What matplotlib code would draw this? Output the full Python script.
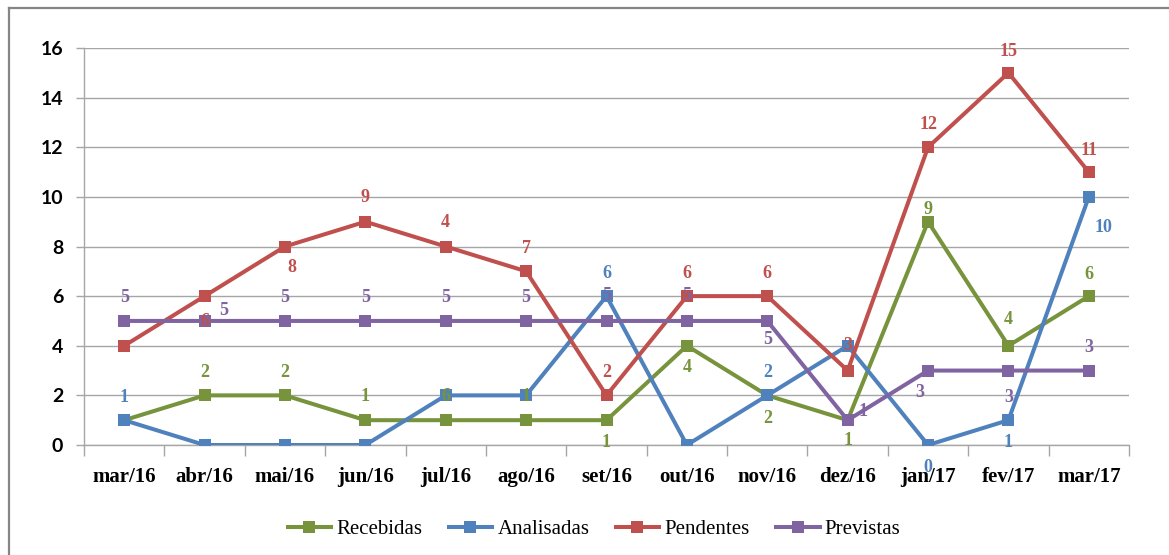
import matplotlib
matplotlib.use("Agg")
import matplotlib.pyplot as plt
from matplotlib.lines import Line2D

# Monthly counts
months = ["mar/16", "abr/16", "mai/16", "jun/16", "jul/16", "ago/16", "set/16",
          "out/16", "nov/16", "dez/16", "jan/17", "fev/17", "mar/17"]
recebidas = [1, 2, 2, 1, 1, 1, 1, 4, 2, 1, 9, 4, 6]
analisadas = [1, 0, 0, 0, 2, 2, 6, 0, 2, 4, 0, 1, 10]
pendentes = [4, 6, 8, 9, 8, 7, 2, 6, 6, 3, 12, 15, 11]
previstas = [5, 5, 5, 5, 5, 5, 5, 5, 5, 1, 3, 3, 3]

# Data label texts as printed on the chart (None = no label)
lab_recebidas = [None, "2", "2", "1", "6", "1", "1", "4", "2", "1", "9", "4", "6"]
lab_analisadas = ["1", None, None, None, None, None, "6", None, "2", None, "0", "1", "10"]
lab_pendentes = [None, "6", "8", "9", "4", "7", "2", "6", "6", "3", "12", "15", "11"]
lab_previstas = ["5", "5", "5", "5", "5", "5", "5", "5", "5", "1", "3", "3", "3"]

yticks = [0, 2, 4, 6, 8, 10, 12, 14, 16]

# Label offsets in pixels (dx, dy)
off_recebidas = [(0, 0), (0, 23), (0, 23), (0, 24), (0, 24), (0, 24), (0, -22),
                 (0, -22), (0, -23), (0, -20), (0, 12), (0, 26), (0, 22)]
off_analisadas = [(0, 23), (0, 0), (0, 0), (0, 0), (0, 0), (0, 0), (0, 23),
                  (0, 0), (0, 23), (0, 0), (0, -23), (0, -22), (15, -31)]
off_pendentes = [(0, 0), (0, -25), (7, -21), (0, 24), (0, 24), (0, 23), (0, 23),
                 (0, 23), (0, 23), (0, 25), (0, 23), (0, 21), (0, 22)]
off_previstas = [(0, 23), (19, 10), (0, 23), (0, 23), (0, 23), (0, 23), (0, 25),
                 (0, 25), (0, -19), (15, 9), (-8, -22), (0, -27), (0, 23)]

GREEN = "#77933C"
BLUE = "#4F81BD"
RED = "#C0504D"
PURPLE = "#8064A2"
GRID = "#A6A6A6"
FRAME = "#858585"

W, H = 1169, 555
fig = plt.figure(figsize=(W / 100, H / 100), dpi=100)
fig.patch.set_facecolor("white")

# chart frame: only the top and left edges fall inside the canvas
fig.lines.append(Line2D([8.5 / W, 1.0], [1 - 7.5 / H, 1 - 7.5 / H], transform=fig.transFigure,
                        color=FRAME, linewidth=1.6))
fig.lines.append(Line2D([8.5 / W, 8.5 / W], [0, 1 - 7.5 / H], transform=fig.transFigure,
                        color=FRAME, linewidth=1.6))

ax = fig.add_axes([84 / W, 110 / H, (1129 - 84) / W, (445 - 48) / H])
x = list(range(len(months)))

series = [
    ("Recebidas", recebidas, GREEN, lab_recebidas, off_recebidas),
    ("Analisadas", analisadas, BLUE, lab_analisadas, off_analisadas),
    ("Pendentes", pendentes, RED, lab_pendentes, off_pendentes),
    ("Previstas", previstas, PURPLE, lab_previstas, off_previstas),
]

for name, vals, col, _, _ in series:
    ax.plot(x, vals, color=col, linewidth=2.9, marker="s", markersize=8.5,
            markeredgewidth=0, label=name, zorder=3)

for name, vals, col, labs, offs in series:
    for i, (v, t, (dx, dy)) in enumerate(zip(vals, labs, offs)):
        if t is None:
            continue
        ax.annotate(t, (i, v), xytext=(dx, dy), textcoords="offset pixels",
                    ha="center", va="center", color=col, fontsize=13,
                    fontweight="bold", family="Liberation Serif", zorder=5,
                    annotation_clip=False)

ax.set_xlim(-0.5, len(months) - 0.5)
ax.set_ylim(0, 16)
ax.set_yticks(yticks)
ax.set_yticklabels([str(t) for t in yticks], fontsize=14, fontweight="bold",
                   family="Lato")
ax.set_xticks(x)
ax.set_xticklabels(months, fontsize=15, fontweight="bold", family="Liberation Serif")
ax.set_xticks([i - 0.5 for i in range(len(months) + 1)], minor=True)
ax.tick_params(axis="x", which="major", length=0, pad=16)
ax.tick_params(axis="x", which="minor", length=8, color=GRID, width=1)
ax.tick_params(axis="y", length=6, color=GRID, width=1, pad=9)

ax.grid(axis="y", color=GRID, linewidth=1)
ax.set_axisbelow(True)
for s in ["top", "right"]:
    ax.spines[s].set_visible(False)
for s in ["left", "bottom"]:
    ax.spines[s].set_color(GRID)
    ax.spines[s].set_linewidth(1)

leg = fig.legend(loc="center", bbox_to_anchor=(594 / W, 1 - 529 / H), ncol=4,
                 frameon=False, handlelength=2.1, columnspacing=1.25, handletextpad=0.25,
                 prop={"family": "Liberation Serif", "size": 15})

fig.savefig("out.png", dpi=100)
